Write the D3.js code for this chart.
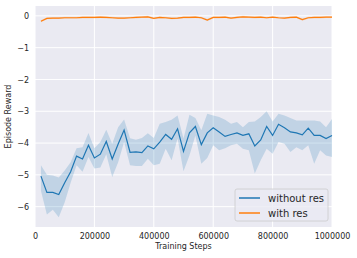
<!DOCTYPE html>
<html>
<head>
<meta charset="utf-8">
<script src="https://cdn.jsdelivr.net/npm/d3@7"></script>
<style>
  body { margin: 0; background: #fff; }
  text { font-family: "DejaVu Sans", sans-serif; fill: #262626; }
</style>
</head>
<body>
<div id="chart"></div>
<script>
// steps: 20000 .. 1000000 every 20000
const steps = d3.range(1, 51).map(i => i * 20000);

const withoutRes = [
  -5.04, -5.55, -5.55, -5.62, -5.25, -4.9, -4.41, -4.5, -4.07, -4.47,
  -4.35, -3.95, -4.5, -4.03, -3.59, -4.29, -4.28, -4.3, -4.09, -4.18,
  -3.97, -3.73, -3.88, -3.55, -4.26, -3.68, -3.48, -4.05, -3.68, -3.52,
  -3.65, -3.79, -3.73, -3.68, -3.76, -3.71, -4.09, -3.9, -3.48, -3.76,
  -3.41, -3.52, -3.65, -3.68, -3.74, -3.53, -3.76, -3.76, -3.86, -3.76
];
const withoutResHi = [
  -4.7, -5.0, -5.02, -5.08, -4.86, -4.6, -4.16, -4.13, -3.68, -4.16,
  -3.97, -3.58, -4.02, -3.5, -3.26, -3.85, -3.9, -3.84, -3.69, -3.84,
  -3.39, -3.34, -3.27, -3.13, -3.86, -3.11, -3.21, -3.6, -3.08, -3.13,
  -3.18, -3.27, -3.39, -3.34, -3.5, -3.34, -3.32, -3.18, -3.0, -3.32,
  -3.08, -3.13, -3.21, -3.29, -3.29, -3.29, -3.29, -3.32, -3.5, -3.24
];
const withoutResLo = [
  -5.5, -6.25, -6.1, -6.33, -5.86, -5.25, -4.7, -4.9, -4.44, -4.8,
  -4.77, -4.35, -5.07, -4.6, -3.97, -4.7, -4.72, -4.72, -4.49, -4.7,
  -4.65, -4.18, -4.54, -3.86, -4.89, -4.39, -3.76, -4.65, -4.47, -4.07,
  -4.23, -4.16, -4.07, -4.02, -4.18, -4.23, -4.96, -4.54, -4.18, -4.34,
  -3.97, -4.02, -4.28, -4.13, -4.23, -4.07, -4.65, -4.23, -4.39, -4.44
];
const withRes = [
  -0.17, -0.08, -0.07, -0.07, -0.06, -0.06, -0.06, -0.05, -0.05, -0.05,
  -0.04, -0.05, -0.06, -0.07, -0.07, -0.06, -0.05, -0.04, -0.03, -0.08,
  -0.05, -0.06, -0.08, -0.07, -0.05, -0.05, -0.04, -0.06, -0.13, -0.05,
  -0.05, -0.04, -0.07, -0.05, -0.03, -0.04, -0.05, -0.04, -0.06, -0.04,
  -0.06, -0.07, -0.05, -0.04, -0.12, -0.06, -0.05, -0.05, -0.04, -0.04
];
const withResSpread = 0.03;

const xTicks = [0, 200000, 400000, 600000, 800000, 1000000];
const yTicks = [0, -1, -2, -3, -4, -5, -6];

const width = 357, height = 258;
const margin = { left: 35, right: 25, top: 6, bottom: 31 };

const svg = d3.select("#chart").append("svg")
  .attr("width", width)
  .attr("height", height);

const x = d3.scaleLinear().domain([0, 1000000]).range([margin.left, width - margin.right]);
const y = d3.scaleLinear().domain([-6.64, 0.31]).range([height - margin.bottom, margin.top]);

svg.append("rect")
  .attr("x", margin.left).attr("y", margin.top)
  .attr("width", width - margin.left - margin.right)
  .attr("height", height - margin.top - margin.bottom)
  .attr("fill", "#eaeaf2");

// grid
svg.append("g").selectAll("line").data(xTicks).join("line")
  .attr("x1", d => x(d)).attr("x2", d => x(d))
  .attr("y1", margin.top).attr("y2", height - margin.bottom)
  .attr("stroke", "#fff").attr("stroke-width", 1);
svg.append("g").selectAll("line").data(yTicks).join("line")
  .attr("x1", margin.left).attr("x2", width - margin.right)
  .attr("y1", d => y(d)).attr("y2", d => y(d))
  .attr("stroke", "#fff").attr("stroke-width", 1);

// axes (labels only, seaborn style)
const xAxis = svg.append("g")
  .attr("transform", `translate(0,${height - margin.bottom})`)
  .call(d3.axisBottom(x).tickValues(xTicks).tickFormat(d3.format("d")).tickSize(0).tickPadding(6));
const yAxis = svg.append("g")
  .attr("transform", `translate(${margin.left},0)`)
  .call(d3.axisLeft(y).tickValues(yTicks).tickFormat(d => d < 0 ? "\u2212" + Math.abs(d) : d).tickSize(0).tickPadding(6));
[xAxis, yAxis].forEach(g => {
  g.select(".domain").remove();
  g.selectAll("text").attr("font-size", 8).attr("font-family", "DejaVu Sans").attr("fill", "#262626");
});

const idx = d3.range(steps.length);

// bands
const bandBlue = d3.area()
  .x(i => x(steps[i]))
  .y0(i => y(withoutResLo[i]))
  .y1(i => y(withoutResHi[i]));
svg.append("path").datum(idx).attr("d", bandBlue)
  .attr("fill", "#1f77b4").attr("fill-opacity", 0.2);

const bandOrange = d3.area()
  .x(i => x(steps[i]))
  .y0(i => y(withRes[i] - withResSpread))
  .y1(i => y(withRes[i] + withResSpread));
svg.append("path").datum(idx).attr("d", bandOrange)
  .attr("fill", "#ff7f0e").attr("fill-opacity", 0.2);

// lines
const line = arr => d3.line().x(i => x(steps[i])).y(i => y(arr[i]));
svg.append("path").datum(idx).attr("d", line(withoutRes))
  .attr("fill", "none").attr("stroke", "#1f77b4").attr("stroke-width", 1.2);
svg.append("path").datum(idx).attr("d", line(withRes))
  .attr("fill", "none").attr("stroke", "#ff7f0e").attr("stroke-width", 1.2);

// axis titles
svg.append("text")
  .attr("x", (margin.left + width - margin.right) / 2)
  .attr("y", 249)
  .attr("text-anchor", "middle")
  .attr("font-size", 8)
  .text("Training Steps");
svg.append("text")
  .attr("transform", `translate(11,${(margin.top + height - margin.bottom) / 2}) rotate(-90)`)
  .attr("text-anchor", "middle")
  .attr("font-size", 8)
  .text("Episode Reward");

// legend
const legendItems = [
  { label: "without res", color: "#1f77b4" },
  { label: "with res", color: "#ff7f0e" }
];
const lg = svg.append("g").attr("transform", "translate(235,189)");
lg.append("rect")
  .attr("width", 93).attr("height", 32).attr("rx", 2)
  .attr("fill", "#eaeaf2").attr("fill-opacity", 0.8)
  .attr("stroke", "#cccccc").attr("stroke-width", 0.8);
lg.selectAll("g.item").data(legendItems).join("g")
  .attr("class", "item")
  .attr("transform", (d, i) => `translate(0,${9 + i * 15})`)
  .each(function (d) {
    const g = d3.select(this);
    g.append("line").attr("x1", 4).attr("x2", 25).attr("y1", 0).attr("y2", 0)
      .attr("stroke", d.color).attr("stroke-width", 1.5);
    g.append("text").attr("x", 33).attr("y", 3.5).attr("font-size", 10).text(d.label);
  });
</script>
</body>
</html>
